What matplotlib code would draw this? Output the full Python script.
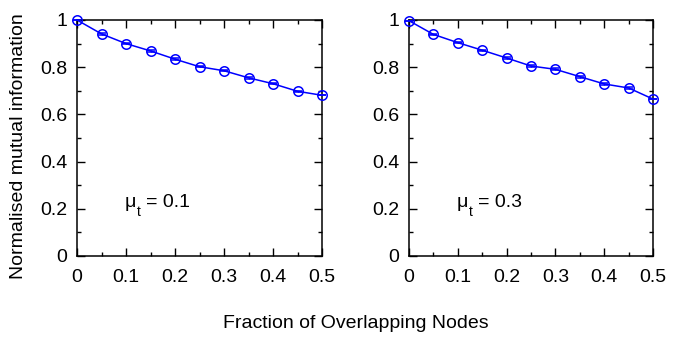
import matplotlib
matplotlib.use("Agg")
import matplotlib.pyplot as plt
from matplotlib.ticker import MultipleLocator, FuncFormatter

plt.rcParams['font.family'] = ['Liberation Sans', 'DejaVu Sans']
plt.rcParams['font.size'] = 14

fraction = [0, 0.05, 0.1, 0.15, 0.2, 0.25, 0.3, 0.35, 0.4, 0.45, 0.5]
nmi_mu01 = [1.0, 0.941, 0.900, 0.869, 0.834, 0.802, 0.785, 0.755, 0.730, 0.698, 0.681]
nmi_mu03 = [0.997, 0.939, 0.904, 0.872, 0.839, 0.805, 0.791, 0.760, 0.729, 0.712, 0.665]
err_mu01 = [0.0, 0.003, 0.003, 0.003, 0.003, 0.003, 0.003, 0.003, 0.003, 0.003, 0.0]
err_mu03 = [0.0, 0.003, 0.003, 0.003, 0.003, 0.004, 0.004, 0.004, 0.005, 0.005, 0.0]
mu_values = ['0.1', '0.3']

fig = plt.figure(figsize=(6.77, 3.39), dpi=100)
W, H = 677, 339
axes_px = [(77, 20, 322, 256), (409, 20, 653, 256)]
blue = '#0000ff'
fmt = FuncFormatter(lambda v, p: '%g' % round(v, 3))
for (x0, y0, x1, y1), y, e, mv in zip(axes_px, [nmi_mu01, nmi_mu03], [err_mu01, err_mu03], mu_values):
    ax = fig.add_axes([x0 / W, 1 - y1 / H, (x1 - x0) / W, (y1 - y0) / H])
    ax.errorbar(fraction, y, yerr=e, color=blue, lw=1.1, marker='o', ms=6.8,
                mfc='none', mec=blue, mew=1.1, capsize=3.0, elinewidth=1.0, capthick=1.1,
                clip_on=False, zorder=3)
    ax.set_xlim(0, 0.5)
    ax.set_ylim(0, 1)
    ax.xaxis.set_major_locator(MultipleLocator(0.1))
    ax.xaxis.set_minor_locator(MultipleLocator(0.05))
    ax.yaxis.set_major_locator(MultipleLocator(0.2))
    ax.yaxis.set_minor_locator(MultipleLocator(0.1))
    ax.xaxis.set_major_formatter(fmt)
    ax.yaxis.set_major_formatter(fmt)
    ax.tick_params(which='both', direction='in', top=True, right=True, width=1.0,
                   labelsize=14)
    ax.tick_params(axis='x', pad=9.5)
    ax.tick_params(axis='y', pad=7)
    ax.tick_params(which='major', length=6)
    ax.tick_params(which='minor', length=3)
    for s in ax.spines.values():
        s.set_linewidth(1.1)
    # mu_t annotation (gnuplot-style subscript)
    base = 207
    fig.text((x0 + 48) / W, 1 - base / H, '\u03bc', fontsize=14, va='baseline', ha='left')
    fig.text((x0 + 60) / W, 1 - 216 / H, 't', fontsize=10, va='baseline', ha='left')
    fig.text((x0 + 69.5) / W, 1 - base / H, '= ' + mv, fontsize=14, va='baseline', ha='left')

fig.text(18.5 / W, 1 - 146.5 / H, 'Normalised mutual information', rotation=90,
         ha='center', va='center', fontsize=14)
fig.text(356 / W, 1 - 324 / H, 'Fraction of Overlapping Nodes', ha='center',
         va='center', fontsize=14)

fig.savefig('out.png', dpi=100)
